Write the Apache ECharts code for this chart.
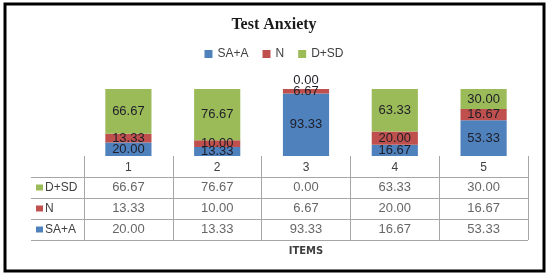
<!DOCTYPE html>
<html>
<head>
<meta charset="utf-8">
<script src="https://cdn.jsdelivr.net/npm/echarts@6/dist/echarts.min.js"></script>
<style>
html,body{margin:0;padding:0;background:#fff;}
#chart{width:548px;height:274px;}
</style>
</head>
<body>
<div id="chart"></div>
<script>
// data
var items = ['1', '2', '3', '4', '5'];
var saA = [20.00, 13.33, 93.33, 16.67, 53.33];
var neutral = [13.33, 10.00, 6.67, 20.00, 16.67];
var dSd = [66.67, 76.67, 0.00, 63.33, 30.00];
var rowNames = ['SA+A', 'N', 'D+SD'];   // table rows, bottom to top
var colors = {'SA+A': '#4f81bd', 'N': '#c0504d', 'D+SD': '#9bbb59'};

var font = 'Liberation Sans';
var lineCol = '#a6a6a6';
var txtCol = '#404040';

function barData(vals) {
    return vals.map(function (v) {
        if (v === 0) return {value: v, label: {position: 'top', distance: 2}};
        return v;
    });
}

var rows = {'SA+A': saA, 'N': neutral, 'D+SD': dSd};
var cells = [];
rowNames.forEach(function (r) {
    rows[r].forEach(function (v, i) { cells.push([i, r, v]); });
});

function bar(name, vals) {
    return {
        name: name, type: 'bar', stack: 'all', barWidth: '52%',
        xAxisIndex: 0, yAxisIndex: 0,
        itemStyle: {color: colors[name]},
        label: {
            show: true, position: 'inside', color: '#1e1e28',
            fontFamily: font, fontSize: 13,
            formatter: function (p) { return p.value.toFixed(2); }
        },
        data: barData(vals)
    };
}

var rich = {};
rowNames.forEach(function (r, k) {
    rich['s' + k] = {backgroundColor: colors[r], width: 7, height: 6};
    rich['t' + k] = {color: txtCol, fontFamily: font, fontSize: 12, padding: [0, 0, 0, 2]};
});

var chart = echarts.init(document.getElementById('chart'));
chart.setOption({
    animation: false,
    title: {
        text: 'Test Anxiety', left: 'center', top: 12,
        textStyle: {fontFamily: 'Liberation Serif', fontWeight: 'bold', fontSize: 16, color: '#1a1a1a'}
    },
    legend: {
        top: 43, left: 'center', icon: 'rect', itemWidth: 8, itemHeight: 8, itemGap: 14,
        data: ['SA+A', 'N', 'D+SD'],
        textStyle: {fontFamily: font, fontSize: 12, color: txtCol}
    },
    graphic: [{
        type: 'rect', shape: {x: 5, y: 4, width: 539, height: 267},
        style: {fill: 'none', stroke: '#000', lineWidth: 3}, silent: true
    }],
    grid: [
        {left: 84, right: 20, top: 89, bottom: 118},
        {left: 84, right: 20, top: 177, bottom: 34}
    ],
    xAxis: [{
        gridIndex: 0, type: 'category', data: items,
        axisLine: {show: false},
        axisTick: {show: true, interval: 0, length: 21, lineStyle: {color: lineCol}},
        axisLabel: {margin: 6, color: txtCol, fontFamily: font, fontSize: 12}
    }, {
        gridIndex: 1, type: 'category', data: items,
        axisLine: {show: false}, axisTick: {show: false}, axisLabel: {show: false},
        splitLine: {show: true, interval: 0, lineStyle: {color: lineCol}},
        name: 'ITEMS', nameLocation: 'middle', nameGap: 6,
        nameTextStyle: {fontFamily: 'DejaVu Sans', fontWeight: 'bold', fontSize: 10, color: txtCol}
    }],
    yAxis: [{
        gridIndex: 0, type: 'value', min: 0, max: 100, show: false
    }, {
        gridIndex: 1, type: 'category', data: rowNames,
        axisLine: {show: false},
        axisTick: {show: true, interval: 0, length: 53, lineStyle: {color: lineCol}},
        splitLine: {show: true, interval: 0, lineStyle: {color: lineCol}},
        axisLabel: {
            margin: 48, align: 'left', rich: rich,
            formatter: function (v) {
                var k = rowNames.indexOf(v);
                return '{s' + k + '|}{t' + k + '|' + v + '}';
            }
        }
    }, {
        gridIndex: 1, type: 'category', data: rowNames, offset: 53,
        axisLine: {show: true, lineStyle: {color: lineCol}},
        axisTick: {show: false}, axisLabel: {show: false}
    }],
    series: [
        bar('SA+A', saA),
        bar('N', neutral),
        bar('D+SD', dSd),
        {
            type: 'scatter', xAxisIndex: 1, yAxisIndex: 1, symbolSize: 1,
            itemStyle: {color: 'transparent'}, silent: true,
            label: {
                show: true, position: 'inside', color: txtCol, fontFamily: font, fontSize: 13,
                formatter: function (p) { return p.value[2].toFixed(2); }
            },
            data: cells
        }
    ]
});
</script>
</body>
</html>
